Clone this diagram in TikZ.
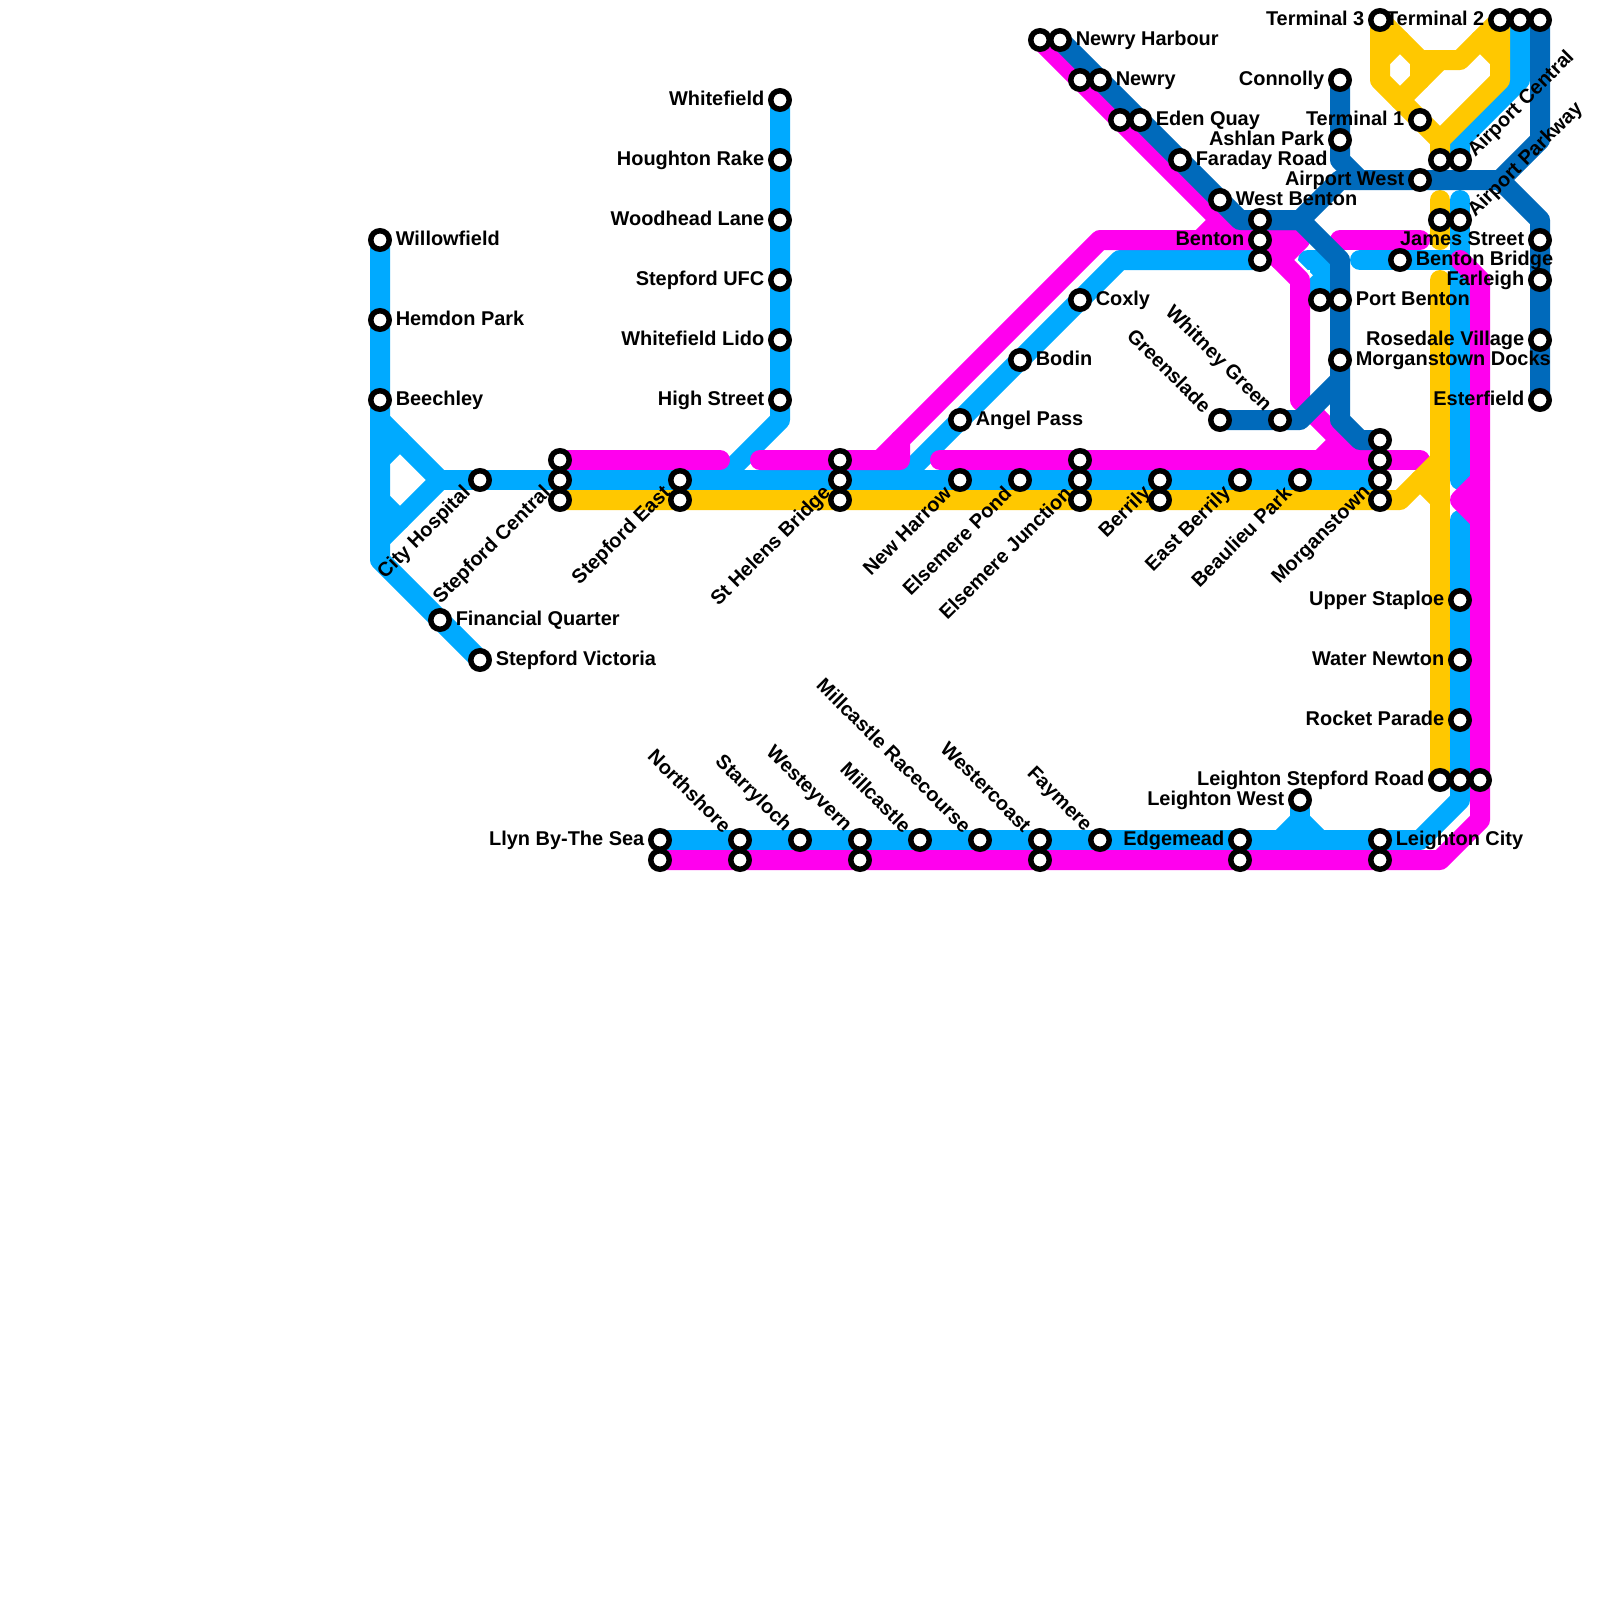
\documentclass[tikz,border=0pt]{standalone}
\usepackage{fontspec}
\setmainfont{Liberation Sans}
\definecolor{lnblue}{HTML}{00AAFF}
\definecolor{lnpink}{HTML}{FF00EE}
\definecolor{lnyellow}{HTML}{FFC800}
\definecolor{lndark}{HTML}{006ABB}
\tikzset{
  mline/.style={line width=.25cm, line cap=round, line join=round},
  stn/.style={circle, draw=black, fill=white, line width=1.95pt, inner sep=0pt, outer sep=0pt, minimum size=.231cm},
  lbl/.style={font=\fontsize{7.09}{8}\selectfont\bfseries, inner sep=0pt, text=black},
  lblr/.style={lbl, anchor=base west, xshift=.19cm, yshift=-1.9pt},
  lbll/.style={lbl, anchor=base east, xshift=-.19cm, yshift=-1.9pt},
  lblsw/.style={lbl, rotate=45, anchor=east, xshift=-.19cm, yshift=.02cm},
  lblnw/.style={lbl, rotate=-45, anchor=east, xshift=-.2cm, yshift=-.01cm},
  lblne/.style={lbl, rotate=45, anchor=west, xshift=.15cm, yshift=-.05cm}
}
\begin{document}
\begin{tikzpicture}[x=.25cm, y=-.25cm]
\useasboundingbox (0,0) rectangle (80,80);

% Station positions
\foreach \n/\x/\y in {
  will/19/12, hemd/19/16, beec/19/20, city/24/24, finq/22/31, svic/24/33,
  scena/28/23, scenb/28/24, scenc/28/25, seasa/34/24, seasb/34/25,
  whit/39/5, houg/39/8, wood/39/11, sufc/39/14, lido/39/17, high/39/20,
  shela/42/23, shelb/42/24, shelc/42/25, newh/48/24, angp/48/21, bodi/51/18, coxl/54/15,
  epon/51/24, ejua/54/23, ejub/54/24, ejuc/54/25, bera/58/24, berb/58/25,
  eber/62/24, beau/65/24, mora/69/22, morb/69/23, morc/69/24, mord/69/25,
  green/61/21, whig/64/21, nhaa/52/2, nhab/53/2, newa/54/4, newb/55/4,
  edea/56/6, edeb/57/6, fara/59/8, wben/61/10, bena/63/11, benb/63/12, benc/63/13,
  conn/67/4, ashl/67/7, pora/66/15, porb/67/15, mdoc/67/18,
  term/69/1, tone/71/6, ttwa/75/1, ttwb/76/1, ttwc/77/1,
  awst/71/9, acea/72/8, aceb/73/8, apka/72/11, apkb/73/11, bbri/70/13,
  jame/77/12, farl/77/14, rose/77/17, este/77/20,
  upst/73/30, watn/73/33, rock/73/36, lsra/72/39, lsrb/73/39, lsrc/74/39,
  lwst/65/40, llya/33/42, llyb/33/43, nora/37/42, norb/37/43, star/40/42,
  wesa/43/42, wesb/43/43, mill/46/42, mrac/49/42, wcoa/52/42, wcob/52/43,
  faym/55/42, edga/62/42, edgb/62/43, lcia/69/42, lcib/69/43%
} \coordinate (\n) at (\x,\y);

% Blue lines
\draw[mline, lnblue] (will) -- (19,28) -- (svic);
\draw[mline, lnblue] (19,21) -- (22,24) -- (19,27);
\draw[mline, lnblue] (19,23) -- (20,22);
\draw[mline, lnblue] (19,25) -- (20,26);
\draw[mline, lnblue] (22,24) -- (morc);
\draw[mline, lnblue] (whit) -- (39,21) -- (36,24);
\draw[mline, lnblue] (45,24) -- (56,13) -- (benc);
\draw[mline, lnblue] (65.4,13) -- (66,13) -- (pora);
\draw[mline, lnblue] (68,13) -- (73,13);
\draw[mline, lnblue] (ttwb) -- (76,4) -- (73,7) -- (aceb);
\draw[mline, lnblue] (73,10) -- (73,24);
\draw[mline, lnblue] (73,26) -- (73,40) -- (71,42) -- (llya);
\draw[mline, lnblue] (lwst) -- (65,41);
\draw[mline, lnblue] (64,42) -- (65,41) -- (66,42);

% Pink lines
\draw[white, line width=.31cm] (64,13) -- (65.2,14.2);
\draw[mline, lnpink] (scena) -- (36,23);
\draw[mline, lnpink] (38,23) -- (45,23) -- (45,22) -- (55,12) -- (65,12) -- (64,13);
\draw[mline, lnpink] (45,22) -- (44,23);
\draw[mline, lnpink] (nhaa) -- (62,12);
\draw[mline, lnpink] (60,12) -- (61,11);
\draw[mline, lnpink] (benb) -- (65,14) -- (65,20) -- (68,23);
\draw[mline, lnpink] (47,23) -- (71,23);
\draw[mline, lnpink] (66,23) -- (67,22);
\draw[mline, lnpink] (67,12) -- (71,12);
\draw[mline, lnpink] (73,13) -- (74,14) -- (74,41) -- (72,43) -- (llyb);
\draw[mline, lnpink] (74,24) -- (73,25) -- (74,26);

% Yellow lines
\draw[mline, lnyellow] (scenc) -- (70,25) -- (72,23);
\draw[mline, lnyellow] (71,24) -- (72,25);
\draw[mline, lnyellow] (72,14) -- (lsra);
\draw[mline, lnyellow] (72,10) -- (72,12);
\draw[mline, lnyellow] (term) -- (71,3) -- (73,3) -- (ttwa) -- (75,4) -- (72,7) -- (acea);
\draw[mline, lnyellow] (term) -- (69,4) -- (72,7);
\draw[mline, lnyellow] (69,3) -- (70,2);
\draw[mline, lnyellow] (71,3) -- (71,4);
\draw[mline, lnyellow] (70,5) -- (72,3);
\draw[mline, lnyellow] (74,2) -- (75,3);

% Dark lines
\draw[mline, lndark] (nhab) -- (62,11) -- (65,11) -- (67,13) -- (67,21) -- (68,22) -- (mora);
\draw[mline, lndark] (bena) -- (65,11) -- (67,9) -- (75,9);
\draw[mline, lndark] (conn) -- (67,8) -- (68,9);
\draw[mline, lndark] (ttwc) -- (77,7) -- (75,9) -- (77,11) -- (este);
\draw[mline, lndark] (green) -- (65,21) -- (67,19);

% Stations
\foreach \n in {
  will, hemd, beec, city, finq, svic, scena, scenb, scenc, seasa, seasb,
  whit, houg, wood, sufc, lido, high, shela, shelb, shelc, newh, angp, bodi, coxl,
  epon, ejua, ejub, ejuc, bera, berb, eber, beau, mora, morb, morc, mord,
  green, whig, nhaa, nhab, newa, newb, edea, edeb, fara, wben, bena, benb, benc,
  conn, ashl, pora, porb, mdoc, term, tone, ttwa, ttwb, ttwc,
  awst, acea, aceb, apka, apkb, bbri, jame, farl, rose, este,
  upst, watn, rock, lsra, lsrb, lsrc, lwst, llya, llyb, nora, norb, star,
  wesa, wesb, mill, mrac, wcoa, wcob, faym, edga, edgb, lcia, lcib%
} \node[stn] (st\n) at (\n) {};

% Labels
\foreach \n/\t in {
  will/Willowfield, hemd/Hemdon Park, beec/Beechley, finq/Financial Quarter, svic/Stepford Victoria,
  angp/Angel Pass, bodi/Bodin, coxl/Coxly, nhab/Newry Harbour, newb/Newry, edeb/Eden Quay,
  fara/Faraday Road, wben/West Benton, porb/Port Benton, mdoc/Morganstown Docks,
  bbri/Benton Bridge, lcia/Leighton City%
} \node[lblr] (lb\n) at (\n) {\t};
\foreach \n/\t in {
  whit/Whitefield, houg/Houghton Rake, wood/Woodhead Lane, sufc/Stepford UFC, lido/Whitefield Lido,
  high/High Street, term/Terminal 3, ttwa/Terminal 2, conn/Connolly, tone/Terminal 1, ashl/Ashlan Park,
  awst/Airport West, benb/Benton, jame/James Street, farl/Farleigh, rose/Rosedale Village, este/Esterfield,
  upst/Upper Staploe, watn/Water Newton, rock/Rocket Parade, lsra/Leighton Stepford Road,
  lwst/Leighton West, edga/Edgemead, llya/Llyn By-The Sea%
} \node[lbll] (lb\n) at (\n) {\t};
\foreach \n/\t in {
  city/City Hospital, scenb/Stepford Central, seasa/Stepford East, shelb/St Helens Bridge,
  newh/New Harrow, epon/Elsemere Pond, ejub/Elsemere Junction, bera/Berrily,
  eber/East Berrily, beau/Beaulieu Park, morc/Morganstown%
} \node[lblsw] (lb\n) at (\n) {\t};
\foreach \n/\t in {
  green/Greenslade, whig/Whitney Green, nora/Northshore, star/Starryloch, wesa/Westeyvern,
  mill/Millcastle, mrac/Millcastle Racecourse, wcoa/Westercoast, faym/Faymere%
} \node[lblnw] (lb\n) at (\n) {\t};
\foreach \n/\t in {aceb/Airport Central, apkb/Airport Parkway} \node[lblne] (lb\n) at (\n) {\t};

\end{tikzpicture}
\end{document}
